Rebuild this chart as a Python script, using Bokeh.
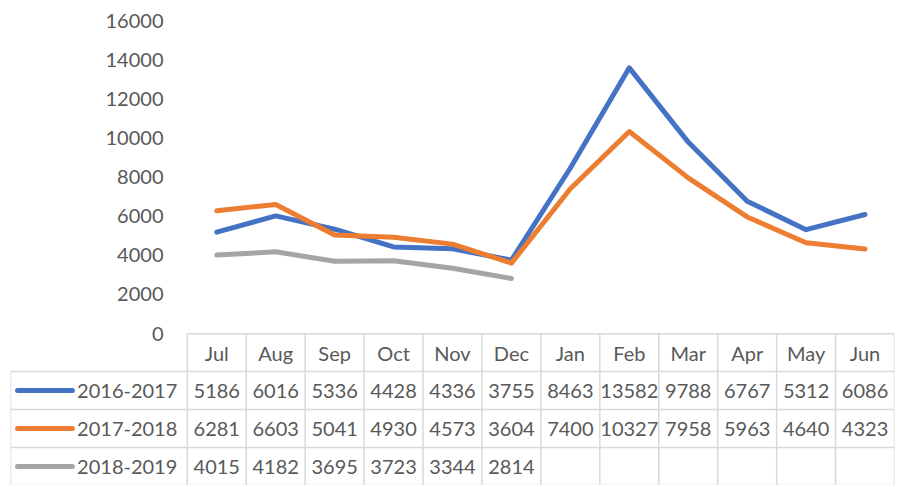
from bokeh.plotting import figure
from bokeh.models import Range1d, FixedTicker
from bokeh.core.properties import value
from bokeh.embed import file_html
from bokeh.resources import INLINE

months = ["Jul", "Aug", "Sep", "Oct", "Nov", "Dec", "Jan", "Feb", "Mar", "Apr", "May", "Jun"]
series_names = ["2016-2017", "2017-2018", "2018-2019"]
s_2016_2017 = [5186, 6016, 5336, 4428, 4336, 3755, 8463, 13582, 9788, 6767, 5312, 6086]
s_2017_2018 = [6281, 6603, 5041, 4930, 4573, 3604, 7400, 10327, 7958, 5963, 4640, 4323]
s_2018_2019 = [4015, 4182, 3695, 3723, 3344, 2814]
y_ticks = [0, 2000, 4000, 6000, 8000, 10000, 12000, 14000, 16000]
colors = ["#4472C4", "#ED7D31", "#A5A5A5"]

series = [s_2016_2017, s_2017_2018, s_2018_2019]

TXT = "#595959"
FONT = "Lato"
FS = "20px"
GRID = "#D9D9D9"

n = len(months)
Y_BOTTOM = -7760
R = -Y_BOTTOM / 4.0  # row height in data units

p = figure(width=898, height=485, output_backend="svg", toolbar_location=None,
           x_range=Range1d(-3.5, n - 0.5), y_range=Range1d(Y_BOTTOM, 16000),
           min_border_left=10, min_border_right=4, min_border_top=20, min_border_bottom=0)
p.outline_line_color = None
p.xgrid.visible = False
p.ygrid.visible = False
p.xaxis.visible = False
p.background_fill_color = "white"

ya = p.yaxis[0]
ya.ticker = FixedTicker(ticks=y_ticks)
ya.axis_line_color = None
ya.major_tick_line_color = None
ya.minor_tick_line_color = None
ya.major_tick_out = 0
ya.major_tick_in = 0
ya.major_label_standoff = -153
ya.major_label_text_font = FONT
ya.major_label_text_font_size = FS
ya.major_label_text_color = TXT

# table grid
x0s, y0s, x1s, y1s = [], [], [], []
x0s.append(-0.5); x1s.append(n - 0.5); y0s.append(0); y1s.append(0)
for k in range(1, 5):
    x0s.append(-3.5); x1s.append(n - 0.5); y0s.append(-k * R); y1s.append(-k * R)
x0s.append(-3.5); x1s.append(-3.5); y0s.append(-R); y1s.append(-4 * R)
for i in range(n + 1):
    x0s.append(i - 0.5); x1s.append(i - 0.5); y0s.append(0); y1s.append(-4 * R)
p.segment(x0=x0s, y0=y0s, x1=x1s, y1=y1s, line_color=GRID, line_width=1.5)

# lines
for vals, c in zip(series, colors):
    p.line(x=list(range(len(vals))), y=vals, line_color=c, line_width=5,
           line_join="round", line_cap="round")

# header
p.text(x=list(range(n)), y=[-R / 2] * n, text=months, text_font=value(FONT),
       text_font_size=FS, text_color=TXT, text_align="center", text_baseline="middle")

# rows
for r, (name, vals, c) in enumerate(zip(series_names, series, colors)):
    yc = -(r + 1.5) * R
    p.text(x=list(range(len(vals))), y=[yc] * len(vals), text=[str(v) for v in vals],
           text_font=value(FONT), text_font_size=FS, text_color=TXT,
           text_align="center", text_baseline="middle")
    p.segment(x0=[-3.38], y0=[yc], x1=[-2.45], y1=[yc], line_color=c, line_width=5,
              line_cap="round")
    p.text(x=[-2.37], y=[yc], text=[name], text_font=value(FONT), text_font_size=FS,
           text_color=TXT, text_align="left", text_baseline="middle")

open("out.html", "w").write(file_html(p, INLINE))
